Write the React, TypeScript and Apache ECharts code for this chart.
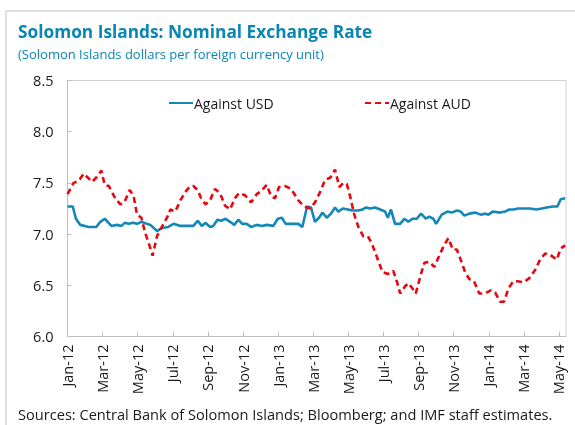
import React, { useEffect, useRef } from "react";
import * as echarts from "echarts";

// Months elapsed since 1 Jan 2012 (x positions of observations)
const usdMonths = [
  0, 0.3, 0.48, 0.73, 1.21, 1.64, 1.87, 2.12, 2.5, 2.82, 3.07, 3.26, 3.49, 3.73, 3.96, 4.21, 4.53, 4.72, 5.1, 5.38,
  5.73, 6.05, 6.43, 6.7, 7.17, 7.42, 7.65, 7.87, 8.12, 8.31, 8.54, 8.75, 9.01, 9.26, 9.5, 9.73, 9.96, 10.21, 10.46,
  10.78, 11.07, 11.35, 11.73, 11.98, 12.21, 12.43, 12.77, 13.15, 13.38, 13.65, 13.87, 14.1, 14.33, 14.52, 14.77,
  15.01, 15.24, 15.43, 15.68, 15.97, 16.23, 16.57, 16.8, 17.01, 17.24, 17.52, 17.81, 18.09, 18.25, 18.43, 18.66,
  18.95, 19.19, 19.42, 19.65, 19.9, 20.14, 20.41, 20.6, 20.84, 21.0, 21.32, 21.64, 21.89, 22.18, 22.4, 22.61, 22.89,
  23.22, 23.54, 23.79, 23.98, 24.23, 24.64, 24.93, 25.17, 25.4, 25.69, 26.07, 26.35, 26.7, 27.02, 27.3, 27.65,
  27.91, 28.1, 28.35,
];
const usdValues = [
  7.27, 7.27, 7.15, 7.09, 7.07, 7.07, 7.12, 7.15, 7.08, 7.09, 7.08, 7.11, 7.1, 7.11, 7.1, 7.12, 7.1, 7.09, 7.03,
  7.06, 7.07, 7.1, 7.08, 7.08, 7.08, 7.13, 7.08, 7.11, 7.07, 7.08, 7.14, 7.13, 7.15, 7.12, 7.09, 7.14, 7.1, 7.1,
  7.07, 7.09, 7.08, 7.09, 7.08, 7.15, 7.16, 7.1, 7.1, 7.1, 7.07, 7.27, 7.26, 7.12, 7.16, 7.21, 7.16, 7.2, 7.26,
  7.22, 7.25, 7.24, 7.23, 7.23, 7.24, 7.26, 7.25, 7.26, 7.24, 7.22, 7.16, 7.24, 7.1, 7.1, 7.15, 7.12, 7.15, 7.15,
  7.2, 7.15, 7.17, 7.15, 7.1, 7.19, 7.22, 7.21, 7.23, 7.22, 7.18, 7.2, 7.21, 7.19, 7.2, 7.19, 7.22, 7.21, 7.22,
  7.24, 7.24, 7.25, 7.25, 7.25, 7.24, 7.25, 7.26, 7.27, 7.27, 7.34, 7.35,
];

const audMonths = [
  0, 0.35, 0.64, 0.92, 1.11, 1.4, 1.68, 1.93, 2.12, 2.35, 2.72, 3.01, 3.26, 3.54, 3.77, 3.96, 4.21, 4.43, 4.63,
  4.85, 5.1, 5.38, 5.67, 5.86, 6.14, 6.43, 6.75, 7.0, 7.17, 7.42, 7.61, 7.87, 8.12, 8.4, 8.69, 8.97, 9.26, 9.54,
  9.77, 10.11, 10.46, 10.78, 11.03, 11.35, 11.6, 11.82, 12.05, 12.39, 12.74, 13.15, 13.49, 13.82, 14.1, 14.39,
  14.67, 14.96, 15.24, 15.49, 15.72, 15.91, 16.1, 16.34, 16.57, 16.85, 17.11, 17.33, 17.62, 17.94, 18.25, 18.56,
  18.76, 18.95, 19.23, 19.42, 19.65, 19.84, 20.09, 20.33, 20.6, 20.9, 21.23, 21.45, 21.7, 21.95, 22.18, 22.4,
  22.65, 22.89, 23.16, 23.46, 23.79, 24.11, 24.36, 24.64, 24.87, 25.12, 25.4, 25.63, 26.01, 26.31, 26.64, 26.92,
  27.21, 27.49, 27.87, 28.1, 28.35,
];
const audValues = [
  7.39, 7.5, 7.52, 7.59, 7.56, 7.51, 7.56, 7.62, 7.48, 7.47, 7.35, 7.29, 7.32, 7.43, 7.37, 7.19, 7.16, 7.01, 6.91,
  6.79, 6.98, 7.07, 7.16, 7.24, 7.22, 7.33, 7.42, 7.47, 7.47, 7.43, 7.35, 7.29, 7.33, 7.44, 7.4, 7.28, 7.24, 7.35,
  7.4, 7.38, 7.31, 7.39, 7.42, 7.48, 7.37, 7.35, 7.46, 7.47, 7.44, 7.33, 7.27, 7.25, 7.31, 7.41, 7.53, 7.55, 7.63,
  7.46, 7.5, 7.49, 7.37, 7.19, 7.07, 6.98, 6.98, 6.91, 6.78, 6.63, 6.61, 6.64, 6.54, 6.42, 6.49, 6.52, 6.47, 6.42,
  6.58, 6.72, 6.73, 6.68, 6.81, 6.89, 6.96, 6.85, 6.85, 6.75, 6.63, 6.56, 6.54, 6.42, 6.42, 6.45, 6.43, 6.34, 6.34,
  6.47, 6.54, 6.54, 6.53, 6.57, 6.65, 6.75, 6.81, 6.8, 6.75, 6.86, 6.89,
];

const tickLabels = [
  "Jan-12", "Mar-12", "May-12", "Jul-12", "Sep-12", "Nov-12", "Jan-13", "Mar-13",
  "May-13", "Jul-13", "Sep-13", "Nov-13", "Jan-14", "Mar-14", "May-14",
];

const titleText = "Solomon Islands: Nominal Exchange Rate";
const subtitleText = "(Solomon Islands dollars per foreign currency unit)";
const sourceText = "Sources: Central Bank of Solomon Islands; Bloomberg; and IMF staff estimates.";

const FONT = "'Open Sans', 'Noto Sans', sans-serif";
const BLUE = "#1487b9";
const RED = "#e8070f";
const TITLE_BLUE = "#0a86b4";

export default function App() {
  const ref = useRef<HTMLDivElement>(null);
  useEffect(() => {
    if (!ref.current) return;
    const chart = echarts.init(ref.current, undefined, { renderer: "svg" });
    const pair = (xs: number[], ys: number[]) => xs.map((x, i) => [x, ys[i]]);
    const legendBase = {
      top: 91, itemWidth: 24, itemHeight: 14, itemGap: 2,
      itemStyle: { color: "transparent", borderWidth: 0, opacity: 0 },
      textStyle: { fontSize: 14, color: "#1a1a1a", padding: [0, 0, 0, -4] },
    };
    chart.setOption({
      animation: false,
      textStyle: { fontFamily: FONT },
      graphic: [
        { type: "line", shape: { x1: 6, y1: 11, x2: 575, y2: 11 }, style: { stroke: "#bfbfbf", lineWidth: 1 } },
        { type: "line", shape: { x1: 6, y1: 11, x2: 6, y2: 425 }, style: { stroke: "#bfbfbf", lineWidth: 1 } },
        {
          type: "text", left: 18, top: 23,
          style: { text: titleText, fill: TITLE_BLUE, font: `bold 17.3px ${FONT}` },
        },
        {
          type: "text", left: 18, top: 47,
          style: { text: subtitleText, fill: TITLE_BLUE, font: `13px ${FONT}` },
        },
        {
          type: "text", left: 18, top: 406,
          style: { text: sourceText, fill: "#1a1a1a", font: `14.6px ${FONT}` },
        },
      ],
      legend: [
        { ...legendBase, data: ["Against USD"], left: 163 },
        { ...legendBase, data: ["Against AUD"], left: 359 },
      ],
      grid: {
        left: 67.5, right: 9, top: 80.5, bottom: 88.5,
        show: true, borderColor: "#d0d0d0", borderWidth: 1,
      },
      xAxis: {
        type: "value", min: 0, max: 28.4, interval: 2,
        axisLine: { show: true, lineStyle: { color: "#bfbfbf" } },
        axisTick: { show: true, inside: true, length: 5, lineStyle: { color: "#bfbfbf" } },
        splitLine: { show: false },
        axisLabel: {
          rotate: 90, margin: 8, fontSize: 14.5, color: "#1a1a1a", showMaxLabel: false,
          formatter: (v: number) => {
            const i = Math.round(v / 2);
            return Math.abs(v - i * 2) < 1e-6 && tickLabels[i] ? tickLabels[i] : "";
          },
        },
      },
      yAxis: {
        type: "value", min: 6, max: 8.5, interval: 0.5,
        axisLine: { show: true, lineStyle: { color: "#bfbfbf" } },
        axisTick: { show: true, inside: true, length: 4, lineStyle: { color: "#bfbfbf" } },
        splitLine: { show: false },
        axisLabel: { margin: 14, fontSize: 14.5, color: "#1a1a1a", formatter: (v: number) => v.toFixed(1) },
      },
      series: [
        {
          name: "Against USD", type: "line", data: pair(usdMonths, usdValues),
          symbol: "none", lineStyle: { color: BLUE, width: 2.6 }, itemStyle: { color: BLUE },
        },
        {
          name: "Against AUD", type: "line", data: pair(audMonths, audValues),
          symbol: "none", lineStyle: { color: RED, width: 2.6, type: [6, 4] }, itemStyle: { color: RED },
        },
      ],
    });
    return () => chart.dispose();
  }, []);
  return <div ref={ref} style={{ position: "fixed", left: 0, top: 0, width: 575, height: 425 }} />;
}
